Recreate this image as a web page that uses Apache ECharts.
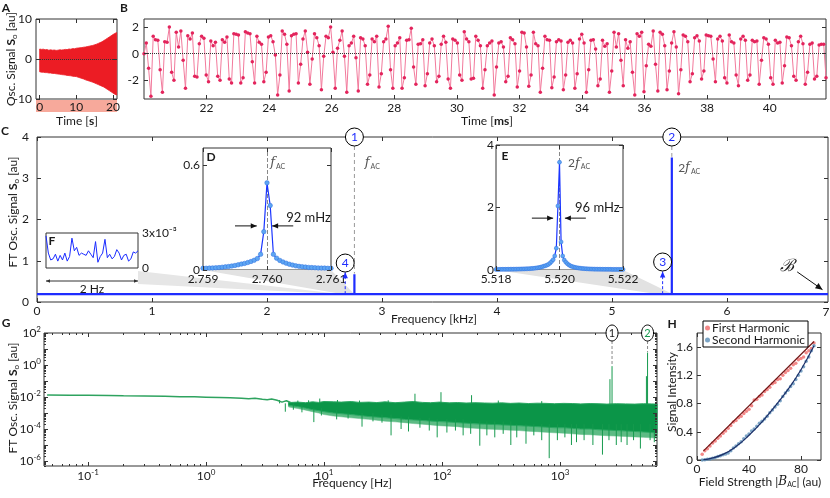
<!DOCTYPE html>
<html><head><meta charset="utf-8">
<script src="https://cdn.jsdelivr.net/npm/echarts@6/dist/echarts.min.js"></script>
<style>html,body{margin:0;padding:0;background:#fff}#c{width:830px;height:498px}</style>
</head><body><div id="c"></div>
<script>
// ================= DATA =================
// Panel A: envelope of oscillating signal (time in s)
const aTimeS = [0,0.5,1,1.5,2,2.5,3,3.5,4,4.5,5,5.5,6,6.5,7,7.5,8,8.5,9,9.5,10,10.5,11,11.5,12,12.5,13,13.5,14,14.5,15,15.5,16,16.5,17,17.5,18,18.5,19,19.5,20,20.5,21];
const aUpper = [2.5,2.4,2.45,2.3,2.35,2.2,2.3,2.2,2.25,2.15,2.2,2.3,2.25,2.3,2.4,2.35,2.5,2.45,2.6,2.55,2.7,2.75,2.8,2.85,2.95,3.0,3.1,3.2,3.3,3.4,3.55,3.7,3.9,4.1,4.3,4.6,4.9,5.2,5.5,5.8,6.1,6.4,6.6];
const aLower = [-3.2,-3.3,-3.3,-3.4,-3.4,-3.5,-3.5,-3.6,-3.6,-3.7,-3.75,-3.8,-3.9,-3.95,-4.0,-4.1,-4.15,-4.2,-4.3,-4.35,-4.4,-4.55,-4.7,-4.85,-5.0,-5.2,-5.35,-5.5,-5.65,-5.8,-6.0,-6.2,-6.4,-6.6,-6.8,-7.0,-7.3,-7.6,-7.9,-8.2,-8.5,-8.8,-9.0];
const aXTicks = [0,10,20];
const aYTicks = [-10,0,10];

// Panel B: sampled signal (ms)
const bStartMs = 20, bStepMs = 0.07365;
const bSignal = [0.0,0.8,-1.1,-3.2,
1.3,1.05,1.0,-1.2,-2.9, 0.9,0.85,2.0,-1.4,-2.0, 1.6,0.5,1.7,-0.5,-2.6, 1.35,1.1,1.55,-1.7,-1.75,
0.75,1.3,1.15,-1.6,-2.1, 0.95,0.6,0.85,-1.7,-2.0, 1.05,0.85,1.25,-1.9,-2.2, 1.5,1.45,1.4,-2.2,-1.8,
1.65,1.55,1.5,-0.6,-2.2, 1.3,0.85,0.7,-2.1,-1.4, 1.25,1.35,0.9,-0.1,-3.1, -1.6,1.7,1.45,0.7,-2.8,
1.35,1.45,1.5,-2.2,-0.8, 1.1,1.7,0.1,-2.3,-0.4, 1.5,1.2,0.6,-2.7,-0.2, 1.3,1.2,2.0,0.1,-2.6,
0.4,1.0,1.7,-0.2,-2.9, 0.6,0.8,1.3,-0.3,-2.8, 1.2,1.1,0.6,-2.3,-1.6, 1.1,0.9,1.3,-2.5,-1.5,
0.9,1.1,2.05,-1.2,-2.6, 0.6,0.8,1.2,-2.6,-1.8, 1.0,1.05,1.9,-1.0,-2.3, 0.7,0.75,1.05,-2.4,-1.5,
0.8,1.1,0.6,-2.1,-1.7, 0.7,1.3,0.85,-1.9,-2.6, 1.1,1.0,0.8,-1.6,-2.0, 1.65,1.1,0.9,-1.9,-1.85,
1.3,1.0,0.6,-2.6,-1.2, 0.6,0.8,0.95,-3.1,-1.0, 0.8,0.9,0.5,-2.1,-1.7, 1.2,1.05,0.75,-2.5,-1.3,
1.6,1.55,0.5,-2.45,-1.6, 1.6,0.75,0.6,-2.9,-1.1, 1.3,1.05,1.0,-2.55,-1.75, 0.9,1.05,0.95,-2.7,-1.6,
0.85,1.0,0.8,-2.6,-1.5, 1.1,1.45,0.8,-2.9,-1.2, 1.0,1.05,0.35,-2.4,-1.9, 1.0,0.55,0.75,-2.9,-1.3,
1.6,0.5,1.5,-0.5,-2.4, 1.05,0.4,0.9,-1.4,-3.1, 1.5,1.3,1.6,-2.85,-0.9, 0.7,0.55,1.7,-0.8,-2.8,
1.6,1.45,0.6,-2.7,-1.3, 0.8,1.65,0.5,-3.0,-1.2, 1.4,1.3,0.9,-2.1,-1.5, 1.2,1.35,0.95,-1.9,-1.3,
1.4,1.35,1.3,-0.4,-2.1, 1.1,1.3,0.95,-1.8,-2.2, 1.4,0.9,0.8,-1.6,-2.4, 1.1,1.3,1.0,-2.0,-1.6,
1.0,0.9,0.95,-2.3,-0.5, 1.2,1.1,0.7,-1.8,-2.3, 1.0,0.8,0.85,-2.2,-0.9, 1.25,1.2,0.6,-1.7,-2.0,
0.9,1.3,0.75,-2.3,-1.4, 0.7,0.8,-1.9,-1.7, 0.65,0.7,0.7,-1.8,-1.6, 1.4,1.1,1.8];
const bXTicks = [22,24,26,28,30,32,34,36,38,40];
const bYTicks = [-2,0,2];

// Panel C: FT spectrum (kHz)
const cFreqKHz = [0,2.7599,2.76,2.7601,5.5199,5.52,5.5201,6.878];
const cAmp = [0.19,0.19,0.67,0.19,0.19,3.5,0.19,0.19];
const cXTicks = [0,1,2,3,4,5,6];
const cYTicks = [0,1,2,3,4];

// Panel D: zoom around f_AC
const dStartKHz = 2.759, dStepKHz = 0.00005;
const dAmp = [0.010,0.010,0.011,0.012,0.013,0.014,0.016,0.018,0.020,0.023,
0.026,0.030,0.034,0.038,0.043,0.049,0.056,0.066,0.090,0.220,
0.500,
0.370,0.090,0.068,0.055,0.046,0.039,0.033,0.028,0.024,0.021,
0.019,0.017,0.015,0.014,0.013,0.012,0.011,0.011,0.010,0.010];
const dXTicks = [2.759,2.760,2.761];
const dYTicks = [0,0.6];

// Panel E: zoom around 2 f_AC
const eStartKHz = 5.518, eStepKHz = 0.00005;
const eAmp = [0.020,0.020,0.020,0.021,0.021,0.022,0.022,0.023,0.024,0.025,
0.025,0.026,0.027,0.028,0.029,0.030,0.032,0.034,0.036,0.038,
0.040,0.043,0.047,0.051,0.056,0.062,0.069,0.077,0.088,0.103,
0.120,0.135,0.155,0.180,0.220,0.270,0.330,0.450,0.700,2.050,
3.450,
0.900,0.450,0.320,0.250,0.200,0.160,0.130,0.110,0.095,0.082,
0.072,0.064,0.057,0.051,0.046,0.042,0.039,0.036,0.033,0.031,
0.029,0.028,0.027,0.026,0.025,0.024,0.023,0.022,0.022,0.021,
0.021,0.021,0.020,0.020,0.020,0.020,0.020,0.020,0.020,0.020];
const eXTicks = [5.518,5.520,5.522];
const eYTicks = [0,2,4];

// Panel F: noise floor (units of 1e-3)
const fStepHz = 0.05;
const fAmpMilli = [2.8,1.3,0.7,0.8,1.2,0.6,1.1,0.7,1.3,0.6,1.0,2.6,1.5,1.8,1.1,1.3,1.2,1.1,1.5,1.2,0.9,2.3,0.5,1.0,1.3,2.5,0.9,1.2,0.8,1.0,1.6,1.3,0.7,1.1,1.2,0.6,0.8,1.4,1.3,1.5];

// Panel G: log-log spectrum
const gSmoothFreq = [0.045,0.07,0.1,0.15,0.2,0.3,0.45,0.6,0.8,1.0,1.3,1.6,2.0,2.3,2.6,3.0,3.3,3.6,4.0,4.4,4.8,5.2];
const gSmoothAmp = [0.0135,0.013,0.0128,0.0125,0.012,0.0115,0.011,0.0105,0.0102,0.0098,0.0094,0.009,0.0084,0.0079,0.0083,0.0072,0.0068,0.0074,0.0062,0.0048,0.0058,0.0045];
const gBandFreq = [5,6,7,8,9,10,12,14,17,20,24,28,33,40,48,57,68,80,95,115,135,160,190,230,270,320,380,450,540,640,760,900,1070,1270,1500,1800,2100,2500,3000,3600,4300,5100,6000,6650];
const gBandUpper = [0.0045,0.0048,0.0044,0.005,0.0046,0.0052,0.005,0.0048,0.0052,0.0046,0.0048,0.0045,0.005,0.0044,0.0048,0.0052,0.0046,0.0044,0.0048,0.0043,0.0045,0.0042,0.0044,0.0042,0.0041,0.0043,0.004,0.0042,0.0039,0.0041,0.004,0.0038,0.004,0.0039,0.0037,0.0039,0.0038,0.0036,0.0038,0.0037,0.0036,0.0038,0.0037,0.0036];
const gBandLower = [0.003,0.0025,0.002,0.0016,0.0014,0.0012,0.001,0.0009,0.0008,0.0007,0.0006,0.00055,0.0005,0.00045,0.0004,0.00037,0.00034,0.00031,0.00029,0.00027,0.00025,0.00023,0.00021,0.0002,0.00019,0.00018,0.00017,0.00016,0.00015,0.00014,0.00013,0.00012,0.00012,0.00011,0.0001,0.0001,0.00009,0.000085,0.00008,0.000075,0.00007,0.000065,0.00006,0.000058];
const gFringeLower = [0.0024,0.0019,0.0015,0.0012,0.001,0.0008,0.00065,0.00058,0.0005,0.00045,0.0004,0.00035,0.00031,0.00028,0.00025,0.00022,0.0002,0.00018,0.00016,0.00015,0.00014,0.00012,0.00011,0.0001,0.000095,0.00009,0.000085,0.00008,0.000072,0.000068,0.000062,0.000058,0.000055,0.00005,0.000046,0.000044,0.000041,0.000038,0.000036,0.000034,0.000032,0.00003,0.000028,0.000027];
const gSpikeFreq = [4.7,5.5,6.5,8.2,9.5,12.8,16,21,26,31,37,45,52,65,78,91,110,130,151,175,209,240,280,330,383,430,515,600,700,810,950,1100,1250,1380,1600,1900,2290,2600,3000,3300,3700,4200,4800,5800,6300,
  4.2,6,7.4,9.2,13,20,35,59,98,178,300,700,2650,2760,5400,5520];
const gSpikeLow = [0.0012,0.0016,0.0011,0.00027,0.0007,0.0004,0.00045,0.00014,0.0003,0.00025,0.00004,0.0001,0.00007,0.00012,0.00008,0.00003,0.00006,0.00008,0.00004,0.00005,0.000009,0.00004,0.00003,0.00005,0.00001,0.00003,0.000012,0.00004,0.00002,0.0000015,0.00002,0.00003,0.00001,0.000015,0.00002,0.00001,0.0000025,0.00002,0.00001,0.000015,0.00001,0.00002,0.000006,0.00002,0.000015,
  0.004,0.004,0.004,0.004,0.004,0.004,0.004,0.004,0.004,0.004,0.0035,0.0035,0.0035,0.0035,0.0035,0.0035];
const gSpikeHigh = [0.004,0.004,0.003,0.002,0.002,0.0015,0.001,0.001,0.001,0.0008,0.0008,0.0006,0.0006,0.0005,0.0005,0.0004,0.0004,0.0004,0.0004,0.0003,0.0003,0.0003,0.0003,0.0003,0.0003,0.0002,0.0002,0.0002,0.0002,0.0002,0.0002,0.0002,0.0002,0.0002,0.0002,0.0002,0.0002,0.0002,0.0002,0.0002,0.0002,0.0002,0.0002,0.0002,0.0002,
  0.0065,0.006,0.0062,0.008,0.0065,0.006,0.0062,0.016,0.02,0.013,0.006,0.0055,0.13,0.85,0.2,6.0];
const gXMajor = [-1,0,1,2,3];
const gYMajor = [-6,-5,-4,-3,-2,-1,0,1,2];
const gYLabels = [-6,-4,-2,0,2];

// Panel H: harmonics vs field strength
const hField = [4,6,8,10,12,14,16,18,20,22,24,26,28,30,32,34,36,38,40,42,44,46,48,50,52,54,56,58,60,62,64,66,68,70,72,74,76,78,80,82,84,86,88,90];
const hFirst = [0.08,0.13,0.16,0.2,0.24,0.27,0.31,0.34,0.38,0.41,0.45,0.49,0.54,0.56,0.6,0.62,0.66,0.69,0.72,0.77,0.85,0.86,0.9,0.92,0.97,1.0,1.03,1.08,1.1,1.14,1.15,1.2,1.24,1.27,1.3,1.35,1.37,1.42,1.44,1.46,1.52,1.55,1.58,1.66];
const hSecond = [0.0,0.005,0.01,0.015,0.025,0.035,0.05,0.06,0.075,0.085,0.1,0.13,0.17,0.2,0.23,0.26,0.3,0.34,0.37,0.41,0.44,0.48,0.52,0.55,0.58,0.62,0.67,0.71,0.75,0.79,0.84,0.9,0.95,0.99,1.04,1.08,1.14,1.2,1.26,1.32,1.4,1.46,1.55,1.62];
const hFit1X = [5,90], hFit1Y = [0.13,1.68];
const hFit2X = [5,10,20,30,40,50,60,70,80,90];
const hFit2Y = [0.005,0.02,0.08,0.19,0.35,0.54,0.76,1.0,1.28,1.62];
const hXTicks = [0,40,80];
const hYTicks = [0,0.4,0.8,1.2,1.6];

// ================= LAYOUT / STYLE =================
const FONT = "Lato, 'Noto Sans', sans-serif";
const TXT = '#1a1a1a', AXC = '#333';
const L = {
  A:{l:36,t:19,w:81,h:80}, B:{l:144,t:19,w:682,h:80},
  C:{l:37,t:137,w:791,h:165}, D:{l:203,t:148,w:128,h:122},
  E:{l:496,t:145,w:127,h:125}, F:{l:46,t:233,w:92,h:35},
  G:{l:44,t:333,w:613,h:133}, H:{l:697,t:333,w:124,h:127}
};
const grid=[], xAxis=[], yAxis=[], series=[];
function mkGrid(g,bg){grid.push({left:g.l,top:g.t,width:g.w,height:g.h,show:true,borderColor:AXC,borderWidth:1,backgroundColor:bg||'transparent',containLabel:false});return grid.length-1;}
function mkAxis(list,gi,pos,range,ticks,labels,o){
  o=o||{};
  list.push({gridIndex:gi,type:'value',position:pos,min:range[0],max:range[1],offset:0,z:10,
    axisLine:{show:false,onZero:false},splitLine:{show:false},minorTick:{show:false},
    axisTick:{show:!!ticks,inside:true,length:o.tl||4,customValues:ticks||[],lineStyle:{color:AXC,width:1}},
    axisLabel:{show:!!labels,customValues:labels||[],margin:o.m==null?4:o.m,fontFamily:FONT,fontSize:o.fs||12,color:TXT,formatter:o.f,rich:o.rich,hideOverlap:false}});
  return list.length-1;
}
function panel(g,xr,yr,xt,xl,yt,yl,o){
  o=o||{};
  const gi=mkGrid(g,o.bg);
  const x=mkAxis(xAxis,gi,'bottom',xr,xt,xl,o.x);
  if(o.mirrorX!==false) mkAxis(xAxis,gi,'top',xr,xt,null,o.x);
  const y=mkAxis(yAxis,gi,o.yPos||'left',yr,yt,yl,o.y);
  if(o.mirrorY!==false) mkAxis(yAxis,gi,'right',yr,yt,null,o.y);
  return {g:gi,x,y};
}
const zeroLine={silent:true,symbol:'none',label:{show:false},lineStyle:{type:'dotted',color:'#333',width:1},data:[{yAxis:0}]};

// ---- A ----
const pA=panel(L.A,[-1,21.1],[-10,10],aXTicks,aXTicks,aYTicks,aYTicks,{x:{m:2},y:{m:4}});
const sA=series.length;
series.push({type:'custom',xAxisIndex:pA.x,yAxisIndex:pA.y,data:[[0,0]],silent:true,z:2,
  renderItem:(p,api)=>{const pts=[];aTimeS.forEach((t,i)=>pts.push(api.coord([t,aUpper[i]])));for(let i=aTimeS.length-1;i>=0;i--)pts.push(api.coord([aTimeS[i],aLower[i]]));
    return {type:'polygon',shape:{points:pts},style:{fill:'#ec1c24',stroke:'#ec1c24',lineWidth:0.8}};},
  markLine:zeroLine});

// ---- B ----
const pB=panel(L.B,[20,41.8],[-3.4,2.6],bXTicks,bXTicks,bYTicks,bYTicks,{x:{m:3},y:{m:5}});
const sB=series.length;
series.push({type:'line',xAxisIndex:pB.x,yAxisIndex:pB.y,data:bSignal.map((v,i)=>[bStartMs+i*bStepMs,v]),
  symbol:'circle',symbolSize:3.5,showAllSymbol:true,itemStyle:{color:'#e3245c'},lineStyle:{color:'#f27a9c',width:1},z:3,
  markLine:zeroLine});

// ---- C ----
const pC=panel(L.C,[0,6.878],[0,4],cXTicks,cXTicks,cYTicks,cYTicks,{x:{m:3},y:{m:8}});
const sC=series.length;
series.push({type:'line',xAxisIndex:pC.x,yAxisIndex:pC.y,data:cFreqKHz.map((f,i)=>[f,cAmp[i]]),symbol:'none',lineStyle:{color:'#1f2dff',width:2.2},z:4});

// ---- D ----
const pD=panel(L.D,[2.759,2.761],[0,0.7],dXTicks,dXTicks,dYTicks,dYTicks,{bg:'#fff',x:{m:3,f:v=>v.toFixed(3)},y:{m:3}});
const sD=series.length;
series.push({type:'line',xAxisIndex:pD.x,yAxisIndex:pD.y,data:dAmp.map((v,i)=>[dStartKHz+i*dStepKHz,v]),
  symbol:'circle',symbolSize:4.5,showAllSymbol:true,itemStyle:{color:'#5ea6f2',borderColor:'#2f6fe0',borderWidth:0.5},lineStyle:{color:'#1a35ff',width:1.2},z:6,
  markLine:{silent:true,symbol:'none',label:{show:false},lineStyle:{type:'dashed',color:'#888',width:1},data:[{xAxis:2.760}]}});

// ---- E ----
const pE=panel(L.E,[5.518,5.522],[0,4],eXTicks,eXTicks,eYTicks,eYTicks,{bg:'#fff',x:{m:3,f:v=>v.toFixed(3)},y:{m:2}});
const sE=series.length;
series.push({type:'line',xAxisIndex:pE.x,yAxisIndex:pE.y,data:eAmp.map((v,i)=>[eStartKHz+i*eStepKHz,v]),
  symbol:'circle',symbolSize:4,showAllSymbol:true,itemStyle:{color:'#5ea6f2',borderColor:'#2f6fe0',borderWidth:0.5},lineStyle:{color:'#1a35ff',width:1.2},z:6,
  markLine:{silent:true,symbol:'none',label:{show:false},lineStyle:{type:'dashed',color:'#888',width:1},data:[{xAxis:5.520}]}});

// ---- F ----
const pF=panel(L.F,[0,(fAmpMilli.length-1)*fStepHz],[0,3.05],null,null,null,[0,3.05],{bg:'#fff',mirrorX:false,mirrorY:false,yPos:'right',
  x:{},y:{m:4,f:v=>v>1?'3x10⁻³':'0'}});
const sF=series.length;
series.push({type:'line',xAxisIndex:pF.x,yAxisIndex:pF.y,data:fAmpMilli.map((v,i)=>[i*fStepHz,v]),symbol:'none',lineStyle:{color:'#1a2bff',width:1},z:6});

// ---- G ----
const supRich={b:{fontFamily:FONT,fontSize:12,color:TXT},s:{fontFamily:FONT,fontSize:8,color:TXT,padding:[0,0,8,0]}};
const expFmt=v=>'{b|10}{s|'+Math.round(v)+'}';
const pG=panel(L.G,[-1.373,3.822],[-6.3125,2],gXMajor,gXMajor,gYMajor,gYLabels,{x:{m:2,f:expFmt,rich:supRich,tl:4},y:{m:3,f:expFmt,rich:supRich,tl:4}});
const gXMinor=[],gYMinor=[];
for(let n=-2;n<=3;n++)for(let k=2;k<=9;k++){const v=n+Math.log10(k);if(v>-1.373&&v<3.822)gXMinor.push(v);}
for(let n=-7;n<=1;n++)for(let k=2;k<=9;k++){const v=n+Math.log10(k);if(v>-6.3125&&v<2)gYMinor.push(v);}
['bottom','top'].forEach(pos=>mkAxis(xAxis,pG.g,pos,[-1.373,3.822],gXMinor,null,{tl:2}));
['left','right'].forEach(pos=>mkAxis(yAxis,pG.g,pos,[-6.3125,2],gYMinor,null,{tl:2}));
const lg=Math.log10;
const sG=series.length;
series.push({type:'custom',xAxisIndex:pG.x,yAxisIndex:pG.y,data:[[0,-2]],silent:true,z:2,
  renderItem:(p,api)=>{const pts=[];gBandFreq.forEach((f,i)=>pts.push(api.coord([lg(f),lg(gBandLower[i])])));for(let i=gBandFreq.length-1;i>=0;i--)pts.push(api.coord([lg(gBandFreq[i]),lg(gFringeLower[i])]));
    return {type:'polygon',shape:{points:pts},style:{fill:'#5dbb84',stroke:'#5dbb84',lineWidth:0.5}};}});
series.push({type:'custom',xAxisIndex:pG.x,yAxisIndex:pG.y,data:[[0,-2]],silent:true,z:3,
  renderItem:(p,api)=>{const pts=[];gBandFreq.forEach((f,i)=>pts.push(api.coord([lg(f),lg(gBandUpper[i])])));for(let i=gBandFreq.length-1;i>=0;i--)pts.push(api.coord([lg(gBandFreq[i]),lg(gBandLower[i])]));
    return {type:'polygon',shape:{points:pts},style:{fill:'#0b9548',stroke:'#2aa862',lineWidth:1}};}});
series.push({type:'custom',xAxisIndex:pG.x,yAxisIndex:pG.y,silent:true,z:4,
  data:gSpikeFreq.map((f,i)=>[lg(f),lg(gSpikeLow[i]),lg(gSpikeHigh[i])]),encode:{x:0,y:[1,2]},
  renderItem:(p,api)=>{const a=api.coord([api.value(0),api.value(1)]),b=api.coord([api.value(0),api.value(2)]);
    return {type:'line',shape:{x1:a[0],y1:a[1],x2:b[0],y2:b[1]},style:{stroke:'#169a4e',lineWidth:1}};}});
series.push({type:'line',xAxisIndex:pG.x,yAxisIndex:pG.y,data:gSmoothFreq.map((f,i)=>[lg(f),lg(gSmoothAmp[i])]),symbol:'none',lineStyle:{color:'#2ea35f',width:1.5},z:4});

// ---- H ----
const pH=panel(L.H,[0,95.4],[0,1.8],hXTicks,hXTicks,hYTicks,hYTicks,{x:{m:3},y:{m:4,f:v=>v===0?'0':v.toFixed(1)}});
const sH=series.length;
series.push({name:'First Harmonic',type:'scatter',xAxisIndex:pH.x,yAxisIndex:pH.y,data:hField.map((x,i)=>[x,hFirst[i]]),symbolSize:3.5,itemStyle:{color:'#f06a6a'},z:5});
series.push({name:'Second Harmonic',type:'scatter',xAxisIndex:pH.x,yAxisIndex:pH.y,data:hField.map((x,i)=>[x,hSecond[i]]),symbolSize:3.5,itemStyle:{color:'#5b8fb8'},z:5});
series.push({name:'fit1',type:'line',xAxisIndex:pH.x,yAxisIndex:pH.y,data:hFit1X.map((x,i)=>[x,hFit1Y[i]]),symbol:'none',lineStyle:{color:'#6e1414',width:1.2},z:6});
series.push({name:'fit2',type:'line',xAxisIndex:pH.x,yAxisIndex:pH.y,data:hFit2X.map((x,i)=>[x,hFit2Y[i]]),symbol:'none',smooth:true,lineStyle:{color:'#1d2f68',width:1.2},z:6});

const option={animation:false,backgroundColor:'#fff',grid,xAxis,yAxis,series,
  legend:{show:true,left:703,top:321,orient:'vertical',itemGap:0,itemWidth:5,itemHeight:5,icon:'circle',padding:[1,3,1,2],
    borderColor:'#000',borderWidth:1,backgroundColor:'#fff',selectedMode:false,z:20,
    textStyle:{fontFamily:FONT,fontSize:12,color:TXT,padding:[0,0,0,-3]},data:['First Harmonic','Second Harmonic']}};

const chart=echarts.init(document.getElementById('c'),null,{renderer:'canvas'});
chart.setOption(option);

// ================= ANNOTATIONS =================
const P=(s,pt)=>chart.convertToPixel({seriesIndex:s},pt);
const GR=[];
function txt(x,y,text,o){o=o||{};GR.push({type:'text',x,y,z:60,rotation:o.rot||0,style:Object.assign({text,fontFamily:FONT,fontSize:12,fill:TXT,align:'center',verticalAlign:'middle'},o.style||{})});}
function ln(a,b,st,z){GR.push({type:'line',z:z||55,shape:{x1:a[0],y1:a[1],x2:b[0],y2:b[1]},style:Object.assign({stroke:'#000',lineWidth:1},st||{})});}
function head(a,b,size,color){const ang=Math.atan2(b[1]-a[1],b[0]-a[0]);const w=size*0.45;const bx=b[0]-size*Math.cos(ang),by=b[1]-size*Math.sin(ang);
  GR.push({type:'polygon',z:56,shape:{points:[[b[0],b[1]],[bx+w*Math.sin(ang),by-w*Math.cos(ang)],[bx-w*Math.sin(ang),by+w*Math.cos(ang)]]},style:{fill:color}});}
function arrow(a,b,color,dash,size){ln(a,b,{stroke:color,lineDash:dash?[3,2]:null,lineWidth:1});head(a,b,size||6,color);}
function circ(c,r,label,color,fs){GR.push({type:'circle',z:58,shape:{cx:c[0],cy:c[1],r},style:{fill:'#fff',stroke:'#000',lineWidth:1}});txt(c[0],c[1]+0.5,label,{style:{fill:color,fontSize:fs||12}});}
function poly(pts,fill,z){GR.push({type:'polygon',z:z||1,shape:{points:pts},style:{fill}});}
const fRich={n:{fontFamily:FONT,fontSize:12,fill:'#555'},f:{fontFamily:'DejaVu Serif',fontStyle:'italic',fontSize:13,fill:'#555'},s:{fontFamily:FONT,fontSize:7,fill:'#555',padding:[7,0,0,1]}};
const titleRich={n:{fontFamily:FONT,fontSize:12,fill:TXT},b:{fontFamily:FONT,fontSize:12,fontWeight:'bold',fill:TXT},s:{fontFamily:FONT,fontSize:8,fill:TXT,padding:[6,0,0,0]},
  i:{fontFamily:'DejaVu Serif',fontStyle:'italic',fontSize:12,fill:TXT},ss:{fontFamily:FONT,fontSize:7,fill:TXT,padding:[6,0,0,0]}};

// pink label band under A
GR.push({type:'rect',z:1,shape:{x:L.A.l,y:L.A.t+L.A.h+1,width:L.A.w,height:12},style:{fill:'#f7a99b'}});

// cones
poly([[L.D.l,L.D.t+L.D.h],[L.D.l+L.D.w,L.D.t+L.D.h],P(sC,[2.76,0.19]),P(sC,[2.66,0.19])],'#e2e2e2',1);
poly([[L.E.l,L.E.t+L.E.h],[L.E.l+L.E.w,L.E.t+L.E.h],P(sC,[5.53,0.19]),P(sC,[5.40,0.19])],'#e2e2e2',1);
poly([[L.F.l+L.F.w,L.F.t+L.F.h+3],[L.F.l+L.F.w,L.F.t+L.F.h+16],P(sC,[2.66,0.19])],'#e6e6e6',1);

// C annotations
const c1=P(sC,[2.76,4]), c2=P(sC,[5.52,4]);
ln([c1[0],c1[1]+9],P(sC,[2.76,0.69]),{stroke:'#999',lineDash:[4,3]});
ln([c2[0],c2[1]+9],P(sC,[5.52,3.52]),{stroke:'#999',lineDash:[4,3]});
circ(c1,9,'1','#1f2dff');circ(c2,9,'2','#1f2dff');
arrow(P(sC,[2.68,0.19]),P(sC,[2.68,0.72]),'#1f2dff',true,6);
arrow(P(sC,[5.44,0.19]),P(sC,[5.44,0.74]),'#1f2dff',true,6);
circ(P(sC,[2.68,0.945]),9,'4','#1f2dff');circ(P(sC,[5.44,0.97]),9,'3','#1f2dff');
let q=P(sC,[2.85,3.37]);txt(q[0],q[1],'{f|f}{s|AC}',{style:{align:'left',rich:fRich}});
q=P(sC,[5.575,3.25]);txt(q[0],q[1],'{n|2}{f|f}{s|AC}',{style:{align:'left',rich:fRich}});
q=P(sC,[6.52,0.86]);txt(q[0],q[1],'ℬ',{style:{fontFamily:'DejaVu Serif',fontStyle:'italic',fontSize:17,fill:'#222'}});
arrow(P(sC,[6.61,0.73]),P(sC,[6.83,0.30]),'#111',false,7);
q=P(sC,[6.878,0]);txt(q[0]-2,q[1]+10,'7');

// D annotations
txt(L.D.l+8,L.D.t+9,'D',{style:{fontWeight:'bold'}});
q=P(sD,[2.76005,0.615]);txt(q[0],q[1],'{f|f}{s|AC}',{style:{align:'left',rich:fRich}});
arrow(P(sD,[2.7595,0.253]),P(sD,[2.75984,0.253]),'#111',false,6);
arrow(P(sD,[2.76041,0.253]),P(sD,[2.76008,0.253]),'#111',false,6);
q=P(sD,[2.7603,0.30]);txt(q[0],q[1],'92 mHz',{style:{align:'left',fontSize:13}});

// E annotations
txt(L.E.l+9,L.E.t+11,'E',{style:{fontWeight:'bold'}});
q=P(sE,[5.52027,3.42]);txt(q[0],q[1],'{n|2}{f|f}{s|AC}',{style:{align:'left',rich:fRich}});
arrow(P(sE,[5.51913,1.66]),P(sE,[5.5198,1.66]),'#111',false,6);
arrow(P(sE,[5.52083,1.66]),P(sE,[5.52017,1.66]),'#111',false,6);
q=P(sE,[5.52049,1.98]);txt(q[0],q[1],'96 mHz',{style:{align:'left',fontSize:13}});

// F annotations
txt(L.F.l+6,L.F.t+8,'F',{style:{fontWeight:'bold'}});
{const y=L.F.t+L.F.h+13;const a=[L.F.l,y],b=[L.F.l+L.F.w,y];ln(a,b,{stroke:'#333'});head(b,a,4,'#333');head(a,b,4,'#333');txt(L.F.l+L.F.w/2,y+8,'2 Hz',{style:{fontSize:12}});}

// G annotations
const g1=P(sG,[lg(2760),2]),g2=P(sG,[lg(5520),2]);
ln([g1[0],g1[1]+8],P(sG,[lg(2760),lg(0.9)]),{stroke:'#888',lineDash:[3,2]});
ln([g2[0],g2[1]+8],P(sG,[lg(5520),lg(6.5)]),{stroke:'#888',lineDash:[3,2]});
GR.push({type:'ellipse',z:58,shape:{cx:g1[0],cy:g1[1],rx:6,ry:8},style:{fill:'#fff',stroke:'#000',lineWidth:1}});txt(g1[0],g1[1],'1',{style:{fontSize:11}});
GR.push({type:'ellipse',z:58,shape:{cx:g2[0],cy:g2[1],rx:6,ry:8},style:{fill:'#fff',stroke:'#000',lineWidth:1}});txt(g2[0],g2[1],'2',{style:{fontSize:11,fill:'#169a4e'}});

// panel letters
[['A',6,8],['B',124,8],['C',5,131],['G',6,323],['H',672,324]].forEach(a=>txt(a[1],a[2],a[0],{style:{fontWeight:'bold'}}));

// axis titles
txt(11,59,'{n|Osc. Signal }{b|S}{s|o}{n| [au]}',{rot:Math.PI/2,style:{rich:titleRich}});
txt(77,121,'{n|Time [}{b|s}{n|]}',{style:{rich:titleRich}});
txt(487,121,'{n|Time [}{b|ms}{n|]}',{style:{rich:titleRich}});
txt(13,212,'{n|FT Osc. Signal }{b|S}{s|o}{n| [au]}',{rot:Math.PI/2,style:{rich:titleRich}});
txt(434,319,'Frequency [kHz]');
txt(13,398,'{n|FT Osc. Signal }{b|S}{s|o}{n| [au]}',{rot:Math.PI/2,style:{rich:titleRich}});
txt(352,483,'Frequency [Hz]');
txt(672,392,'Signal Intensity',{rot:Math.PI/2});
txt(760,482,'{n|Field Strength |}{i|B}{ss|AC}{n|| (au)}',{style:{rich:titleRich}});

chart.setOption({graphic:GR});
</script></body></html>
